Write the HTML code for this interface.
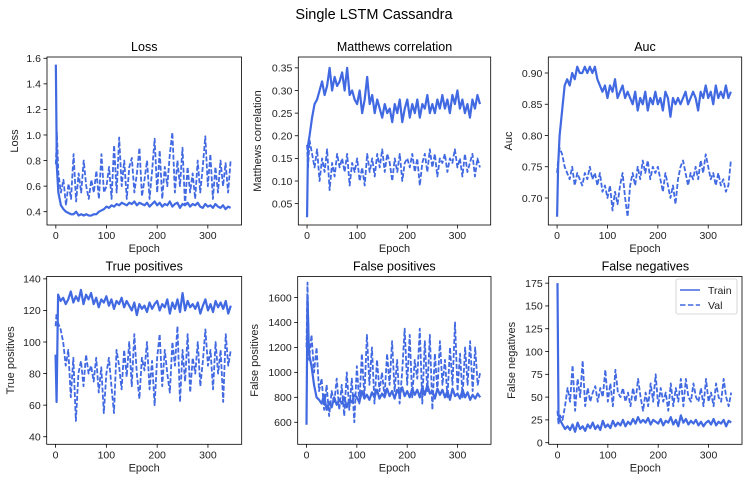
<!DOCTYPE html>
<html><head><meta charset="utf-8"><style>
html,body{margin:0;padding:0;background:#fff;}
svg{display:block;font-family:"Liberation Sans","DejaVu Sans",sans-serif;}
</style></head><body>
<svg id="fig" width="748" height="482" viewBox="0 0 748 482">
<text x="374" y="19" text-anchor="middle" font-size="14.5" fill="#000">Single LSTM Cassandra</text>
</svg>
<script>
const epochs = [0,2,5,10,15,20,25,30,35,40,45,50,55,60,65,70,75,80,85,90,95,100,105,110,115,120,125,130,135,140,145,150,155,160,165,170,175,180,185,190,195,200,205,210,215,220,225,230,235,240,245,250,255,260,265,270,275,280,285,290,295,300,305,310,315,320,325,330,335,340,345];
const xTicks = [0,100,200,300];

const lossTrain = [1.55,0.75,0.55,0.45,0.42,0.40,0.39,0.38,0.38,0.40,0.37,0.38,0.37,0.38,0.37,0.37,0.38,0.38,0.40,0.41,0.42,0.44,0.43,0.45,0.44,0.46,0.45,0.47,0.46,0.45,0.47,0.46,0.48,0.45,0.47,0.46,0.45,0.47,0.44,0.46,0.48,0.45,0.47,0.44,0.46,0.45,0.48,0.44,0.46,0.47,0.43,0.46,0.45,0.47,0.44,0.46,0.45,0.47,0.44,0.43,0.46,0.44,0.45,0.43,0.46,0.44,0.43,0.45,0.42,0.44,0.43];
const lossVal = [0.77,1.02,0.70,0.55,0.65,0.45,0.62,0.50,0.85,0.48,0.70,0.55,0.80,0.60,0.50,0.65,0.55,0.72,0.50,0.85,0.55,0.60,0.75,0.50,0.92,0.55,0.98,0.60,0.80,0.50,0.75,0.82,0.55,0.70,0.90,0.52,0.65,0.80,0.50,0.72,0.97,0.55,0.88,0.50,0.75,0.60,0.85,1.02,0.55,0.80,0.60,0.90,0.45,0.75,0.55,0.70,0.50,0.80,0.55,0.75,0.99,0.60,0.85,0.50,0.75,0.55,0.80,0.60,0.78,0.55,0.80];
const lossTicks = [0.4,0.6,0.8,1.0,1.2,1.4,1.6];

const mccTrain = [0.02,0.18,0.20,0.24,0.27,0.28,0.30,0.32,0.29,0.31,0.35,0.30,0.33,0.31,0.32,0.34,0.30,0.35,0.29,0.30,0.28,0.27,0.30,0.25,0.28,0.33,0.27,0.29,0.25,0.28,0.26,0.24,0.27,0.25,0.26,0.23,0.27,0.25,0.28,0.23,0.26,0.28,0.24,0.27,0.25,0.28,0.24,0.27,0.26,0.29,0.25,0.27,0.25,0.28,0.26,0.29,0.26,0.28,0.25,0.29,0.27,0.30,0.26,0.28,0.25,0.27,0.24,0.28,0.26,0.29,0.27];
const mccVal = [0.18,0.13,0.19,0.16,0.13,0.17,0.10,0.15,0.12,0.17,0.08,0.14,0.11,0.16,0.13,0.15,0.12,0.16,0.09,0.14,0.12,0.15,0.10,0.13,0.09,0.16,0.12,0.15,0.11,0.16,0.13,0.17,0.12,0.16,0.14,0.10,0.15,0.12,0.16,0.10,0.14,0.15,0.13,0.16,0.12,0.15,0.09,0.14,0.16,0.12,0.17,0.13,0.16,0.11,0.15,0.14,0.16,0.12,0.15,0.14,0.17,0.13,0.15,0.11,0.16,0.12,0.14,0.16,0.11,0.15,0.13];
const mccTicks = [0.05,0.10,0.15,0.20,0.25,0.30,0.35];

const aucTrain = [0.67,0.75,0.80,0.84,0.88,0.89,0.88,0.90,0.89,0.91,0.90,0.90,0.91,0.90,0.91,0.90,0.91,0.89,0.88,0.87,0.88,0.86,0.88,0.87,0.89,0.86,0.87,0.88,0.86,0.87,0.86,0.85,0.87,0.84,0.86,0.85,0.87,0.84,0.86,0.85,0.87,0.85,0.86,0.84,0.87,0.86,0.83,0.86,0.85,0.86,0.85,0.86,0.87,0.85,0.86,0.87,0.86,0.84,0.87,0.86,0.88,0.86,0.87,0.85,0.88,0.86,0.87,0.86,0.88,0.86,0.87];
const aucVal = [0.74,0.76,0.78,0.77,0.75,0.74,0.73,0.75,0.72,0.74,0.73,0.72,0.74,0.73,0.75,0.73,0.74,0.72,0.74,0.71,0.72,0.70,0.72,0.68,0.71,0.69,0.72,0.74,0.70,0.67,0.72,0.74,0.72,0.75,0.73,0.76,0.74,0.76,0.73,0.75,0.74,0.75,0.73,0.71,0.74,0.72,0.70,0.72,0.69,0.73,0.75,0.76,0.74,0.72,0.74,0.73,0.75,0.73,0.76,0.74,0.77,0.75,0.73,0.74,0.72,0.74,0.72,0.73,0.71,0.72,0.76];
const aucTicks = [0.70,0.75,0.80,0.85,0.90];

const tpTrain = [92,62,130,126,128,124,127,132,125,129,126,133,124,130,127,131,124,128,122,127,125,129,123,127,121,126,124,128,122,126,123,120,125,117,124,121,123,119,125,121,124,126,120,124,122,127,118,125,121,127,119,131,120,126,122,124,121,125,118,123,127,120,124,119,126,122,125,121,126,118,123];
const tpVal = [110,118,112,108,100,85,95,65,90,50,80,88,72,92,80,85,75,90,68,84,55,80,90,72,55,95,85,70,95,78,100,72,105,80,64,90,82,100,70,88,60,90,105,72,95,80,68,100,85,110,62,95,75,105,68,90,80,100,72,88,108,85,95,70,100,80,95,62,105,85,95];
const tpTicks = [40,60,80,100,120,140];

const fpTrain = [580,1600,1150,1050,900,800,780,750,820,700,760,720,800,740,780,750,800,720,780,760,820,800,760,850,790,820,780,840,800,860,790,830,800,870,810,850,790,860,820,880,810,850,800,870,820,860,800,880,820,900,830,850,790,870,820,860,800,850,780,870,810,830,790,860,800,840,780,820,790,830,800];
const fpVal = [1200,1720,1100,1300,1000,1200,850,950,700,900,650,850,750,950,700,900,650,1000,700,950,600,1050,750,1150,800,1300,900,1200,750,1100,850,1000,800,1150,900,1250,850,1100,750,1000,1350,900,1300,800,1100,950,1350,750,1250,850,1300,700,1150,850,1250,900,1100,800,1200,900,1400,850,1150,800,1200,900,1250,850,1200,900,1000];
const fpTicks = [600,800,1000,1200,1400,1600];

const fnTrain = [175,30,25,20,15,18,14,20,12,22,15,18,13,20,16,22,15,19,14,24,17,20,16,24,18,22,19,25,18,23,20,26,21,28,22,25,22,27,20,25,23,21,26,19,24,22,28,20,25,18,30,22,26,20,24,21,25,19,23,18,22,24,20,26,19,23,21,25,18,24,22];
const fnVal = [35,20,30,25,40,60,45,85,35,70,50,90,40,60,45,55,62,45,60,50,80,45,65,40,80,55,50,60,45,55,40,60,45,70,50,35,55,40,65,45,75,40,60,45,55,35,65,40,60,45,70,40,70,50,45,65,50,45,60,40,70,45,55,40,65,50,45,70,50,40,55];
const fnTicks = [0,25,50,75,100,125,150,175];

const NS = "http://www.w3.org/2000/svg";
const svg = document.getElementById('fig');
const COLOR = "#4169e1";
function mk(tag, attrs, parent){
  const e = document.createElementNS(NS, tag);
  for (const k in attrs) e.setAttribute(k, attrs[k]);
  (parent||svg).appendChild(e);
  return e;
}
function fmt(v, dec){ return v.toFixed(dec); }

function panel(o){
  const g = mk('g', {});
  
  
  const L=o.l, R=o.r, T=o.t, B=o.b;
  const xmin=-17.45, xmax=366.45;
  const sx = v => L + (v - xmin)/(xmax - xmin)*(R-L);
  const sy = v => B - (v - o.ymin)/(o.ymax - o.ymin)*(B-T);
  const mkPath = (vals, dashed, nm) => {
    let d = '';
    vals.forEach((v,i)=>{ d += (i? 'L':'M') + sx(epochs[i]).toFixed(2) + ' ' + sy(v).toFixed(2); });
    const p = mk('path', {d:d, fill:'none', stroke:COLOR, 'stroke-width': dashed ? 1.8 : 2.2, 'stroke-linejoin':'round'}, g);
    if (dashed) p.setAttribute('stroke-dasharray','5,2');
    
    
  };
  mkPath(o.val, true, o.key + '-val-line');
  mkPath(o.train, false, o.key + '-train-line');
  const fr = mk('rect', {x:L, y:T, width:R-L, height:B-T, fill:'none', stroke:'#000', 'stroke-width':0.8}, g);
  
  
  xTicks.forEach(v=>{
    const x = sx(v);
    mk('line', {x1:x, x2:x, y1:B, y2:B+3.5, stroke:'#000', 'stroke-width':0.8}, g);
    const t = mk('text', {x:x, y:B+14, 'text-anchor':'middle', 'font-size':10.5, fill:'#222'}, g);
    t.textContent = v;
    
    
  });
  o.ticks.forEach(v=>{
    const y = sy(v);
    mk('line', {x1:L-3.5, x2:L, y1:y, y2:y, stroke:'#000', 'stroke-width':0.8}, g);
    const t = mk('text', {x:L-6, y:y+3.8, 'text-anchor':'end', 'font-size':10.5, fill:'#222'}, g);
    t.textContent = fmt(v, o.dec);
    
    
  });
  const xl = mk('text', {x:(L+R)/2, y:B+27, 'text-anchor':'middle', 'font-size':11, fill:'#222'}, g);
  xl.textContent = 'Epoch';
  
  
  const yl = mk('text', {x:0, y:0, 'text-anchor':'middle', 'font-size':11, fill:'#222', transform:'translate('+o.ylx+','+((T+B)/2)+') rotate(-90)'}, g);
  yl.textContent = o.title;
  
  
  const tt = mk('text', {x:(L+R)/2, y:T-6, 'text-anchor':'middle', 'font-size':12.5, fill:'#000'}, g);
  tt.textContent = o.title;
  
  
  return {g, L, R, T, B};
}

const r1t=57, r1b=225, r2t=276.5, r2b=444.3;
panel({key:'loss', title:'Loss', l:47, r:241.5, t:r1t, b:r1b, ymin:0.296, ymax:1.61, ticks:lossTicks, dec:1, train:lossTrain, val:lossVal, ylx:18});
panel({key:'mcc', title:'Matthews correlation', l:298.3, r:490.7, t:r1t, b:r1b, ymin:0.0028, ymax:0.374, ticks:mccTicks, dec:2, train:mccTrain, val:mccVal, ylx:261});
panel({key:'auc', title:'Auc', l:548.3, r:741.7, t:r1t, b:r1b, ymin:0.6568, ymax:0.9256, ticks:aucTicks, dec:2, train:aucTrain, val:aucVal, ylx:512});
panel({key:'tp', title:'True positives', l:46.7, r:241.7, t:r2t, b:r2b, ymin:35.2, ymax:141.5, ticks:tpTicks, dec:0, train:tpTrain, val:tpVal, ylx:14});
panel({key:'fp', title:'False positives', l:297.7, r:491, t:r2t, b:r2b, ymin:423.6, ymax:1768, ticks:fpTicks, dec:0, train:fpTrain, val:fpVal, ylx:258});
panel({key:'fn', title:'False negatives', l:548.7, r:742, t:r2t, b:r2b, ymin:-1.75, ymax:182.3, ticks:fnTicks, dec:0, train:fnTrain, val:fnVal, ylx:515});

const lg = mk('g', {});


mk('rect', {x:676, y:279, width:61, height:35, rx:2, fill:'#fff', 'fill-opacity':0.85, stroke:'#ccc', 'stroke-width':0.8}, lg);
const l1 = mk('line', {x1:680, x2:700, y1:290, y2:290, stroke:COLOR, 'stroke-width':1.5}, lg);


const l2 = mk('line', {x1:680, x2:700, y1:305, y2:305, stroke:COLOR, 'stroke-width':1.5, 'stroke-dasharray':'5.5,2.4'}, lg);


const t1 = mk('text', {x:708, y:294, 'font-size':10.5, fill:'#222'}, lg);
t1.textContent = 'Train';


const t2 = mk('text', {x:708, y:309, 'font-size':10.5, fill:'#222'}, lg);
t2.textContent = 'Val';


</script>
</body></html>
